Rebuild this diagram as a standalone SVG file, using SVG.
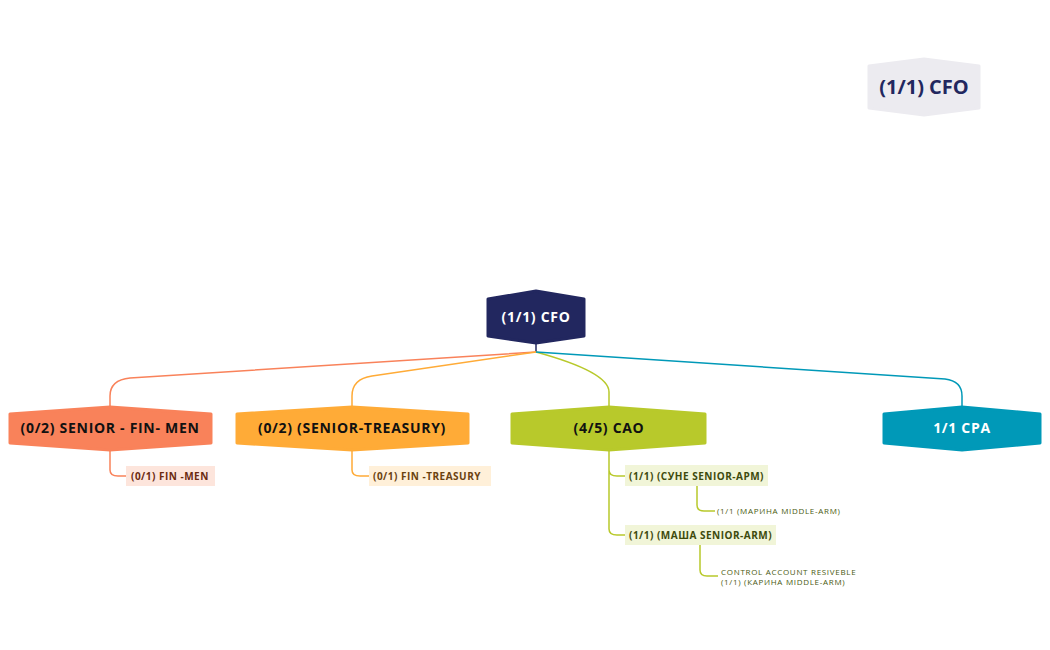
<svg xmlns="http://www.w3.org/2000/svg" width="1050" height="650" viewBox="0 0 1050 650">
<style>
text{font-family:"Open Sans","Liberation Sans",sans-serif;font-weight:700}
.t{font-size:14px;text-anchor:middle;letter-spacing:0.7px}
.s{font-size:10px;letter-spacing:0.5px}
.x{font-size:8px;font-weight:400;fill:#4a5a10;letter-spacing:0.7px}
.c{fill:none;stroke-width:1.5}
</style>
<rect width="1050" height="650" fill="#fff"/>
<g id="cfo-legend"><polygon points="869,66 924,59 979,66 979,108 924,115 869,108" fill="#ECEBF0" stroke="#ECEBF0" stroke-width="3" stroke-linejoin="round"/><text x="924" y="94" font-size="20" text-anchor="middle" fill="#22275F">(1/1) CFO</text></g>
<g id="connectors">
<path class="c" stroke="#22275F" d="M536,343 L536,352"/>
<path class="c" stroke="#F9825A" d="M536,352 L130,378 Q110,380 110,396 L110,407"/>
<path class="c" stroke="#FFAB37" d="M536,352 L372,376 Q352,379 352,396 L352,407"/>
<path class="c" stroke="#B8C92B" d="M536,352 Q609,372 609,392 L609,407"/>
<path class="c" stroke="#0099B8" d="M536,352 L945,379 Q962,381 962,396 L962,407"/>
<path class="c" stroke="#F9825A" d="M110,449 L110,470 Q110,476 118,476 L126,476"/>
<path class="c" stroke="#FFAB37" d="M352,449 L352,470 Q352,476 360,476 L369,476"/>
<path class="c" stroke="#B8C92B" d="M609,449 L609,529 Q609,535 617,535 L625,535 M609,470 Q609,476 617,476 L625,476"/>
<path class="c" stroke="#B8C92B" stroke-width="1" d="M697,486 L697,505 Q697,511 704,511 L715,511"/>
<path class="c" stroke="#B8C92B" stroke-width="1" d="M700,545 L700,570 Q700,576 707,576 L718,576"/>
</g>
<g id="cfo"><polygon points="488,299 536,291 584,299 584,336 536,343 488,336" fill="#22275F" stroke="#22275F" stroke-width="3" stroke-linejoin="round"/><text x="536" y="322" class="t" fill="#fff">(1/1) CFO</text></g>
<g id="fin-men"><polygon points="10,414 110,407 211,414 211,443 110,450 10,443" fill="#F9825A" stroke="#F9825A" stroke-width="3" stroke-linejoin="round"/><text x="110" y="433" class="t" fill="#111">(0/2) SENIOR - FIN- MEN</text></g>
<g id="treasury"><polygon points="237,414 352,407 468,414 468,443 352,450 237,443" fill="#FFAB37" stroke="#FFAB37" stroke-width="3" stroke-linejoin="round"/><text x="352" y="433" class="t" fill="#111">(0/2) (SENIOR-TREASURY)</text></g>
<g id="cao"><polygon points="512,414 609,407 705,414 705,443 609,450 512,443" fill="#B8C92B" stroke="#B8C92B" stroke-width="3" stroke-linejoin="round"/><text x="609" y="433" class="t" fill="#111">(4/5) CAO</text></g>
<g id="cpa"><polygon points="884,414 962,407 1040,414 1040,443 962,450 884,443" fill="#0099B8" stroke="#0099B8" stroke-width="3" stroke-linejoin="round"/><text x="962" y="433" class="t" fill="#fff">1/1 CPA</text></g>
<g id="fin-men-sub"><rect x="126" y="466" width="89" height="20" fill="#FDE5DC"/><text x="131" y="480" class="s" fill="#6B2A10">(0/1)  FIN -MEN</text></g>
<g id="treasury-sub"><rect x="369" y="466" width="122" height="20" fill="#FFF0D9"/><text x="373" y="480" class="s" fill="#6B4210">(0/1) FIN -TREASURY</text></g>
<g id="sune"><rect x="625" y="465" width="143" height="21" fill="#F1F5D8"/><text x="629" y="480" class="s" fill="#3E4A0C">(1/1) (СУНЕ SENIOR-APM)</text></g>
<g id="masha"><rect x="625" y="525" width="151" height="20" fill="#F1F5D8"/><text x="629" y="539" class="s" fill="#3E4A0C">(1/1) (МАША SENIOR-ARM)</text></g>
<g id="marina"><text x="717" y="514" class="x">(1/1 (МАРИНА MIDDLE-ARM)</text></g>
<g id="karina"><text x="721" y="575" class="x">CONTROL ACCOUNT RESIVEBLE</text><text x="721" y="585" class="x">(1/1) (КАРИНА MIDDLE-ARM)</text></g>
</svg>
